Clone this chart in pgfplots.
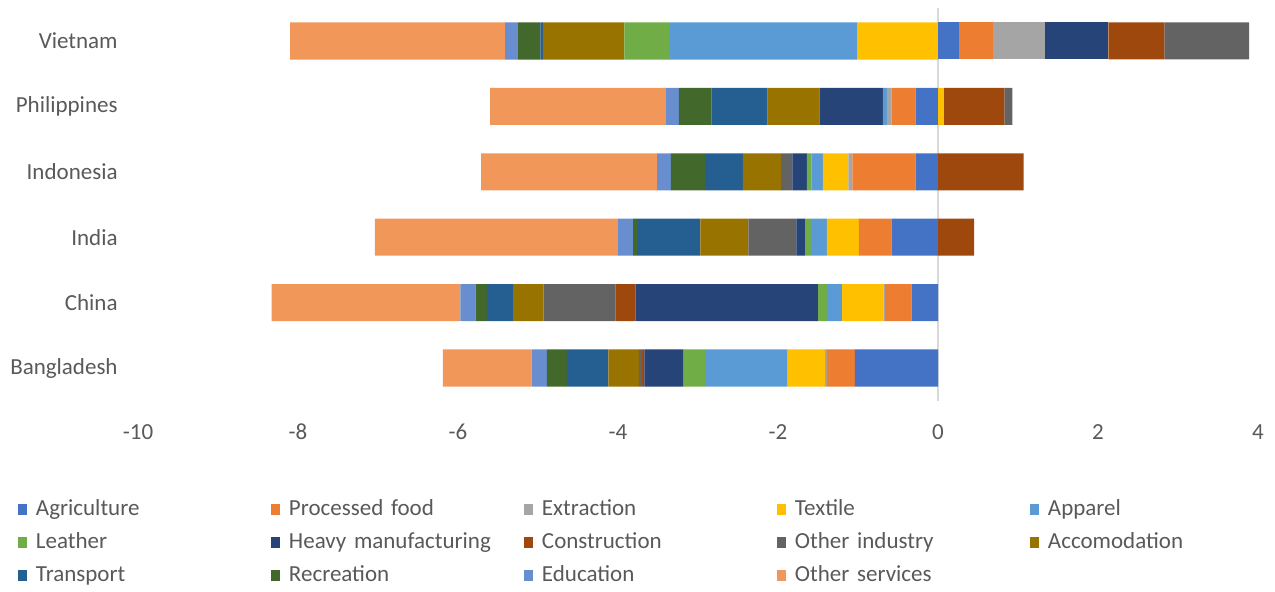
\documentclass[border=0pt]{standalone}
\usepackage{fontspec}
\setmainfont{Carlito}
\usepackage{pgfplots}
\usepackage{pgfplotstable}
\pgfplotsset{compat=1.18}
\definecolor{cAgr}{HTML}{4472C4}
\definecolor{cPf}{HTML}{ED7D31}
\definecolor{cExt}{HTML}{A5A5A5}
\definecolor{cTex}{HTML}{FFC000}
\definecolor{cApp}{HTML}{5B9BD5}
\definecolor{cLea}{HTML}{70AD47}
\definecolor{cHvy}{HTML}{264478}
\definecolor{cCon}{HTML}{9E480E}
\definecolor{cOth}{HTML}{636363}
\definecolor{cAcc}{HTML}{997300}
\definecolor{cTra}{HTML}{255E91}
\definecolor{cRec}{HTML}{43682B}
\definecolor{cEdu}{HTML}{698ED0}
\definecolor{cOsv}{HTML}{F1975A}
\definecolor{textgrey}{HTML}{595959}
\definecolor{zerogrey}{HTML}{D9D9D9}
% y: 0 Bangladesh ... 5 Vietnam
\pgfplotstableread{
y Agr Pf Ext Tex App Lea Hvy Con Oth Acc Tra Rec Edu Osv
0 -1.04 -0.35 -0.02 -0.47 -1.03 -0.27 -0.49 -0.03 -0.04 -0.38 -0.52 -0.25 -0.19 -1.11
1 -0.33 -0.33 -0.02 -0.52 -0.19 -0.11 -2.28 -0.25 -0.90 -0.38 -0.33 -0.14 -0.19 -2.36
2 -0.58 -0.41 0 -0.40 -0.20 -0.07 -0.11 0.45 -0.60 -0.60 -0.79 -0.05 -0.19 -3.04
3 -0.28 -0.79 -0.05 -0.32 -0.14 -0.06 -0.18 1.07 -0.14 -0.48 -0.47 -0.43 -0.17 -2.20
4 -0.28 -0.30 -0.06 0.07 -0.05 0 -0.79 0.76 0.10 -0.65 -0.70 -0.41 -0.16 -2.20
5 0.26 0.43 0.65 -1.01 -2.34 -0.57 0.79 0.70 1.06 -1.02 -0.03 -0.28 -0.16 -2.69
}\data
\newcommand{\negbar}[2]{\addplot[fill=#2, draw=none] table[y=y, x expr={min(\thisrow{#1},0)}] {\data};}
\newcommand{\posbar}[2]{\addplot[fill=#2, draw=none] table[y=y, x expr={max(\thisrow{#1},0)}] {\data};}
\pgfplotsset{common/.style={
  at={(69pt,95.65pt)}, anchor=south west,
  scale only axis, width=560pt, height=196.2pt,
  xbar stacked, bar width=0.566,
  xmin=-10, xmax=4, ymin=-0.5, ymax=5.5}}
\begin{document}
\begin{tikzpicture}[font=\fontsize{11.5}{13.8}\selectfont]
\useasboundingbox (0,0) rectangle (637.5pt,296pt);
\begin{axis}[
  common,
  xtick={-10,-8,-6,-4,-2,0,2,4},
  xticklabels={-10,-8,-6,-4,-2,0,2,4},
  ytick={0,1,2,3,4,5},
  yticklabels={Bangladesh,China,India,Indonesia,Philippines,Vietnam},
  axis line style={draw=none}, tick style={draw=none},
  xticklabel style={anchor=center, yshift=-15.65pt, inner sep=0pt, text=textgrey, font=\fontsize{11.5}{13.8}\selectfont},
  yticklabel style={anchor=east, inner sep=0pt, xshift=-10pt, text=textgrey, font=\fontsize{11.5}{13.8}\selectfont},
  extra x ticks={0}, extra x tick labels={},
  extra x tick style={grid=major, major grid style={draw=zerogrey, line width=0.9pt}},
  legend columns=5,
  legend cell align=left,
  legend image code/.code={\fill[#1] (0pt,-2.75pt) rectangle (4.5pt,2.75pt);},
  legend style={at={(axis description cs:-0.107143,-0.251784)}, anchor=north west,
    draw=none, fill=none, inner sep=0pt, outer sep=0pt, row sep=6pt,
    text=textgrey, font=\fontsize{11.5}{13.8}\selectfont,
    nodes={inner sep=0pt, text width=117.5pt, text height=8pt, text depth=2.5pt},
    /tikz/every odd column/.append style={column sep=4.5pt}},
]
\negbar{Agr}{cAgr}
\negbar{Pf}{cPf}
\negbar{Ext}{cExt}
\negbar{Tex}{cTex}
\negbar{App}{cApp}
\negbar{Lea}{cLea}
\negbar{Hvy}{cHvy}
\negbar{Con}{cCon}
\negbar{Oth}{cOth}
\negbar{Acc}{cAcc}
\negbar{Tra}{cTra}
\negbar{Rec}{cRec}
\negbar{Edu}{cEdu}
\negbar{Osv}{cOsv}
\legend{Agriculture,Processed food,Extraction,Textile,Apparel,Leather,Heavy manufacturing,Construction,Other industry,Accomodation,Transport,Recreation,Education,Other services}
\end{axis}
\begin{axis}[common, hide axis]
\posbar{Agr}{cAgr}
\posbar{Pf}{cPf}
\posbar{Ext}{cExt}
\posbar{Tex}{cTex}
\posbar{App}{cApp}
\posbar{Lea}{cLea}
\posbar{Hvy}{cHvy}
\posbar{Con}{cCon}
\posbar{Oth}{cOth}
\posbar{Acc}{cAcc}
\posbar{Tra}{cTra}
\posbar{Rec}{cRec}
\posbar{Edu}{cEdu}
\posbar{Osv}{cOsv}
\end{axis}
\end{tikzpicture}
\end{document}
